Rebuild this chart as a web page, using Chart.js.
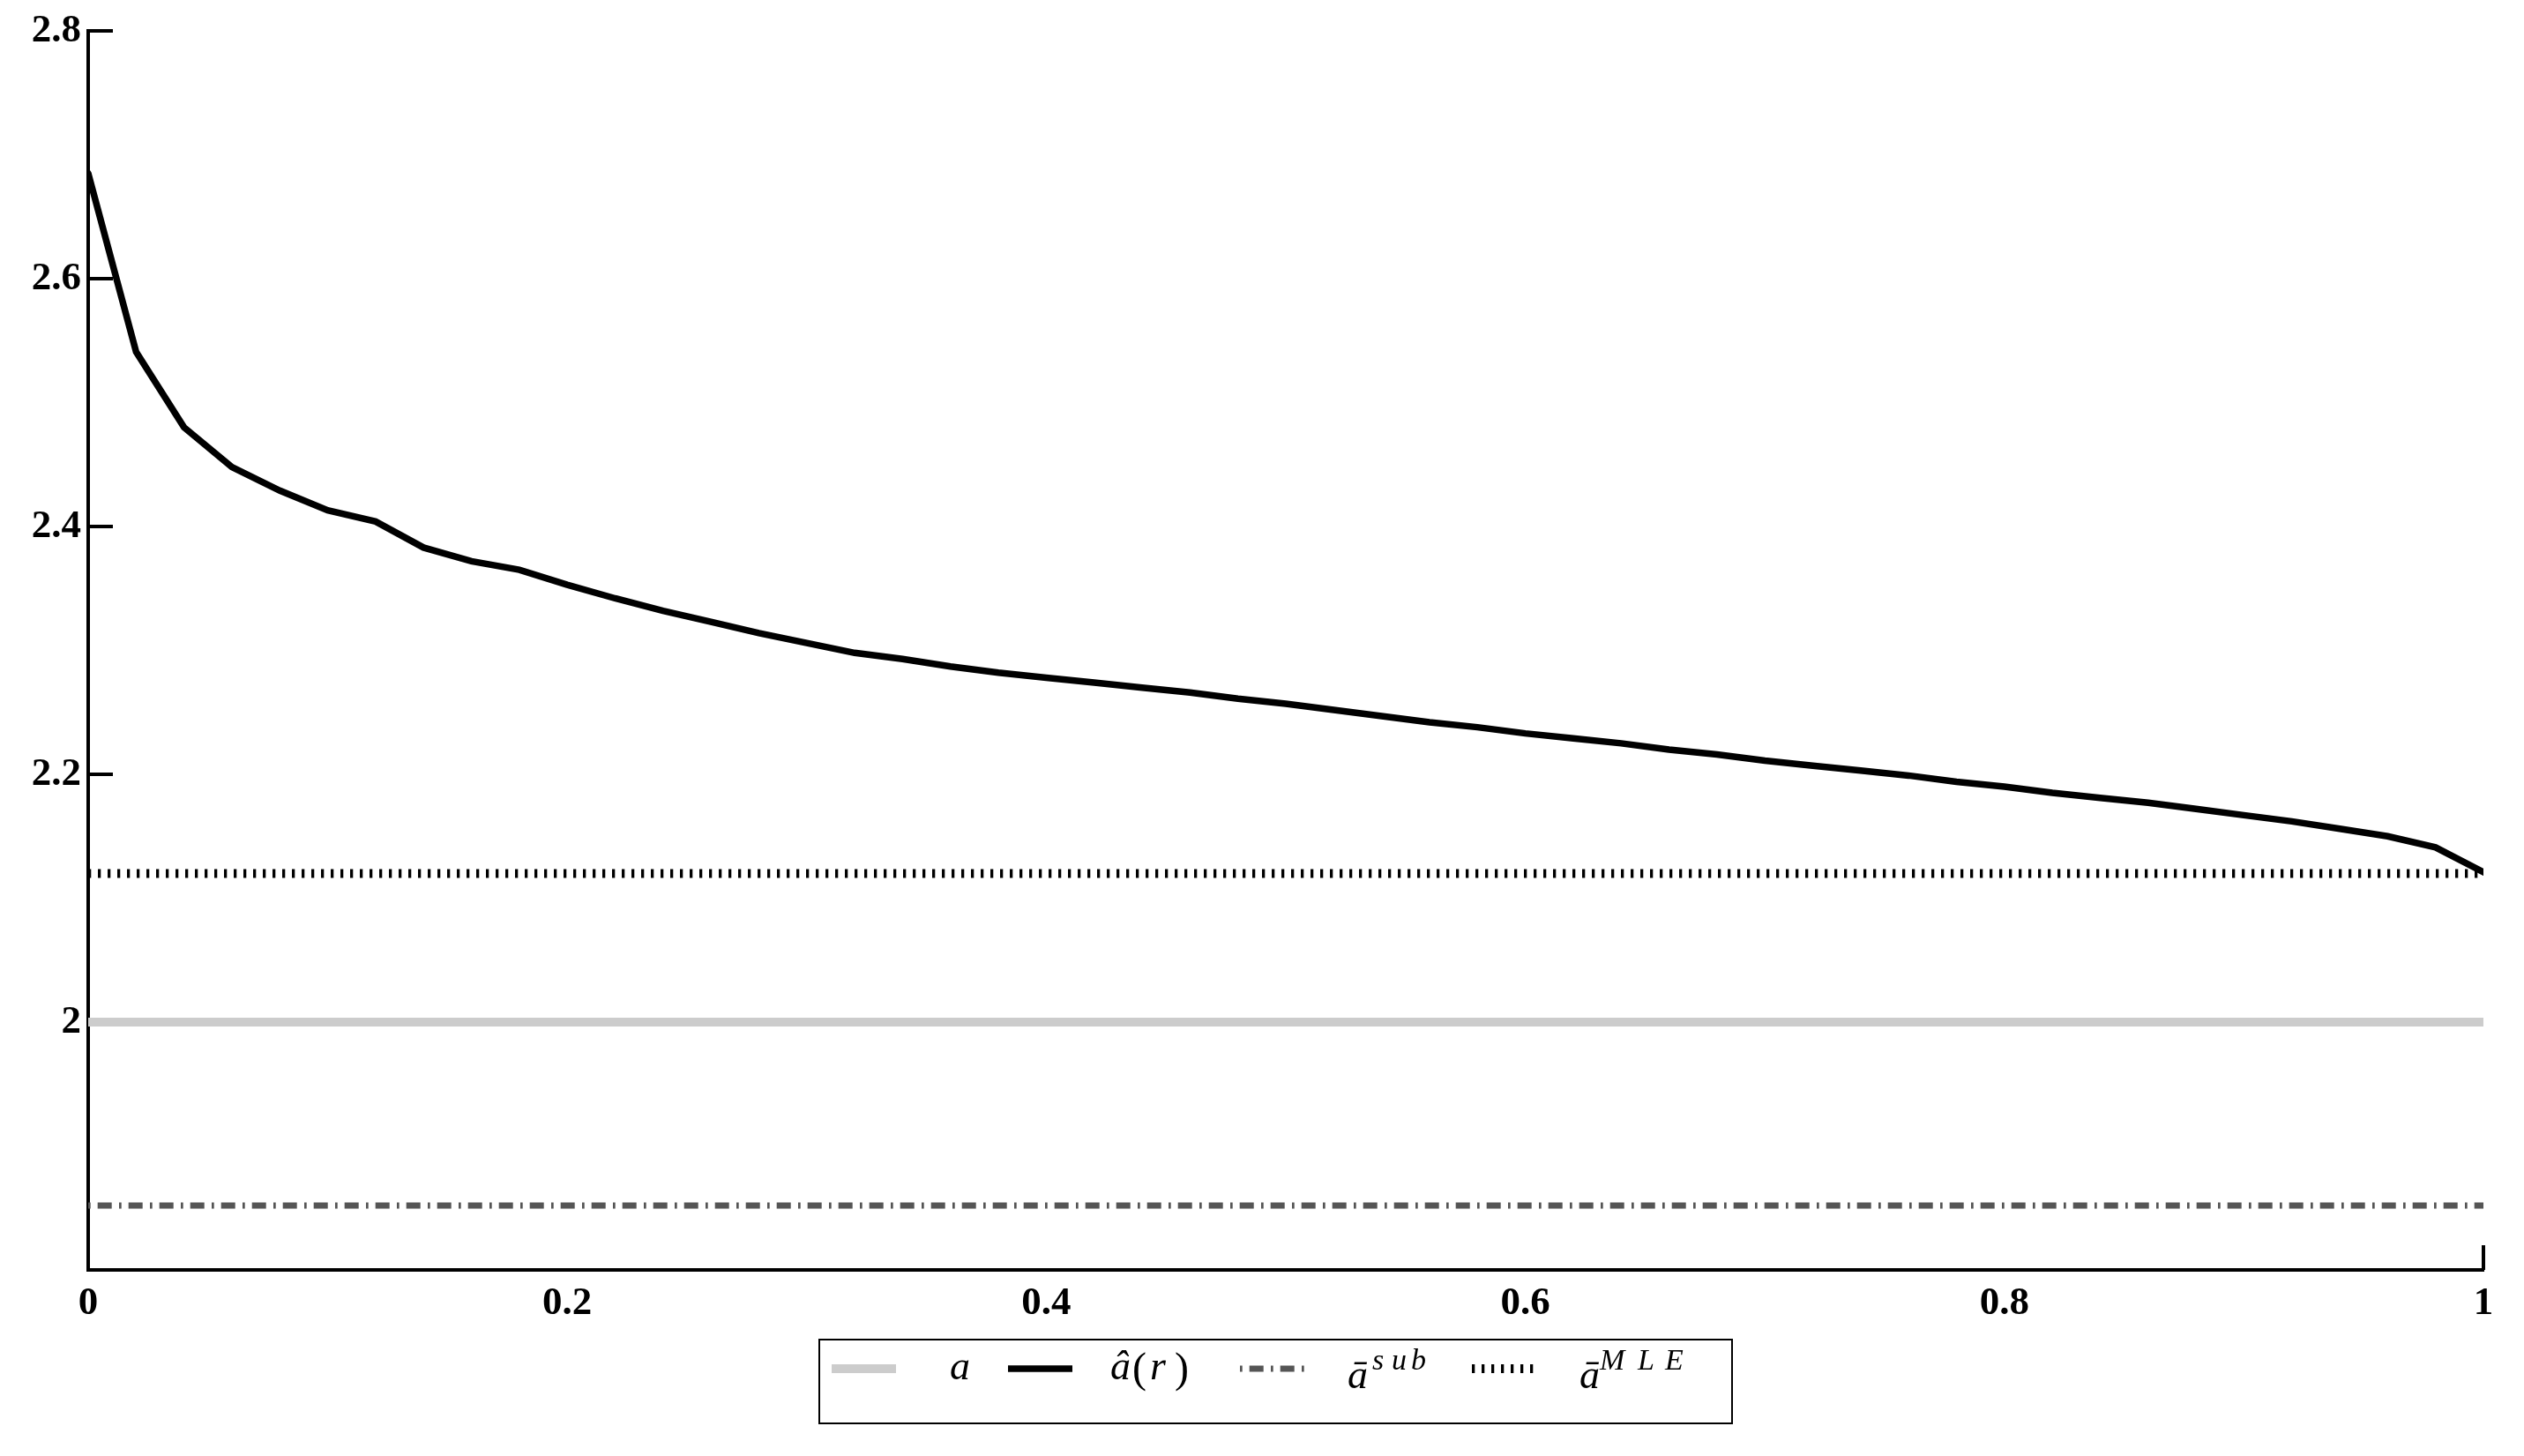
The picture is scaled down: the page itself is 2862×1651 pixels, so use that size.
<!DOCTYPE html>
<html lang="en">
<head>
    <meta charset="UTF-8">
    <title>a-hat(r)</title>
    <script src="https://cdn.jsdelivr.net/npm/chart.js@4.4.0/dist/chart.umd.min.js"></script>
    <style>
        body { margin: 0; background: #fff; }
        .wrap { width: 2862px; height: 1651px; position: relative; }
    </style>
</head>
<body>
<div class="wrap">
    <canvas id="myChart"></canvas>
</div>

<script>
    // data
    const rGrid = [0, 0.02, 0.04, 0.06, 0.08, 0.10, 0.12, 0.14, 0.16, 0.18,
                   0.20, 0.22, 0.24, 0.26, 0.28, 0.30, 0.32, 0.34, 0.36, 0.38,
                   0.40, 0.42, 0.44, 0.46, 0.48, 0.50, 0.52, 0.54, 0.56, 0.58,
                   0.60, 0.62, 0.64, 0.66, 0.68, 0.70, 0.72, 0.74, 0.76, 0.78,
                   0.80, 0.82, 0.84, 0.86, 0.88, 0.90, 0.92, 0.94, 0.96, 0.98, 1.00];
    const aHat = [2.685, 2.541, 2.480, 2.448, 2.429, 2.413, 2.404, 2.383, 2.372, 2.365,
                  2.353, 2.342, 2.332, 2.323, 2.314, 2.306, 2.298, 2.293, 2.287, 2.282,
                  2.278, 2.274, 2.270, 2.266, 2.261, 2.257, 2.252, 2.247, 2.242, 2.238,
                  2.233, 2.229, 2.225, 2.220, 2.216, 2.211, 2.207, 2.203, 2.199, 2.194,
                  2.190, 2.185, 2.181, 2.177, 2.172, 2.167, 2.162, 2.156, 2.150, 2.141, 2.121];
    const aTrue = 2;
    const aSub = 1.852;
    const aMLE = 2.12;
    const xRange = [0, 1];
    const yRange = [1.8, 2.8];
    const xTicks = [0, 0.2, 0.4, 0.6, 0.8, 1];
    const yTicks = [2, 2.2, 2.4, 2.6, 2.8];

    const tickFont = { family: 'Liberation Serif', size: 45, weight: 'bold' };

    function flat(v) {
        return [{ x: xRange[0], y: v }, { x: xRange[1], y: v }];
    }

    // MATLAB style inward tick marks (x axis only shows one at the ends)
    const innerTicks = {
        id: 'innerTicks',
        beforeDatasetsDraw(chart) {
            const ctx = chart.ctx;
            const area = chart.chartArea;
            const xs = chart.scales.x, ys = chart.scales.y;
            ctx.save();
            ctx.strokeStyle = '#000';
            ctx.lineWidth = 4;
            ctx.beginPath();
            yTicks.forEach(v => {
                const py = ys.getPixelForValue(v);
                ctx.moveTo(area.left, py);
                ctx.lineTo(area.left + 28, py);
            });
            xRange.forEach(v => {
                const px = xs.getPixelForValue(v);
                ctx.moveTo(px, area.bottom);
                ctx.lineTo(px, area.bottom - 28);
            });
            ctx.stroke();
            ctx.restore();
        }
    };

    // boxed legend with math-like labels
    const mathLegend = {
        id: 'mathLegend',
        afterDraw(chart) {
            const ctx = chart.ctx;
            const ds = chart.data.datasets;
            const bx = 929, by = 1519, bw = 1035, bh = 95;
            const sy = by + 33;
            ctx.save();
            ctx.strokeStyle = '#000';
            ctx.lineWidth = 2;
            ctx.strokeRect(bx, by, bw, bh);

            const swatches = [943, 1143, 1406, 1669];
            swatches.forEach((x0, i) => {
                const d = ds[i];
                ctx.beginPath();
                ctx.strokeStyle = d.borderColor;
                ctx.lineWidth = d.borderWidth;
                ctx.setLineDash(d.borderDash || []);
                ctx.moveTo(x0, sy);
                ctx.lineTo(x0 + 73, sy);
                ctx.stroke();
            });
            ctx.setLineDash([]);

            ctx.fillStyle = '#000';
            ctx.textBaseline = 'alphabetic';
            ctx.textAlign = 'left';
            const it = s => 'italic ' + s + 'px "Liberation Serif"';
            const up = s => s + 'px "Liberation Serif"';

            ctx.font = it(46);
            ctx.fillText('a', 1077, 1564);

            ctx.fillText('\u00e2', 1259, 1564);
            ctx.font = up(48);
            ctx.fillText('(', 1284, 1567);
            ctx.font = it(46);
            ctx.fillText('r', 1304, 1564);
            ctx.font = up(48);
            ctx.fillText(')', 1332, 1567);

            ctx.font = it(46);
            ctx.fillText('\u0101', 1528, 1574);
            ctx.font = it(34);
            ctx.fillText('s', 1556, 1553);
            ctx.fillText('u', 1578, 1553);
            ctx.fillText('b', 1600, 1553);

            ctx.font = it(46);
            ctx.fillText('\u0101', 1791, 1574);
            ctx.font = it(34);
            ctx.fillText('M', 1814, 1553);
            ctx.fillText('L', 1857, 1553);
            ctx.fillText('E', 1888, 1553);
            ctx.restore();
        }
    };

    const ctx = document.getElementById('myChart').getContext('2d');
    const myChart = new Chart(ctx, {
        type: 'line',
        data: {
            datasets: [{
                label: 'a',
                data: flat(aTrue),
                borderColor: '#cccccc',
                borderWidth: 10,
                order: 4
            }, {
                label: '\u00e2(r)',
                data: rGrid.map((r, i) => ({ x: r, y: aHat[i] })),
                borderColor: '#000000',
                borderWidth: 7.5,
                borderCapStyle: 'round',
                order: 1
            }, {
                label: '\u0101 sub',
                data: flat(aSub),
                borderColor: '#555555',
                borderWidth: 7,
                borderDash: [2.7, 8, 16, 8.3],
                order: 3
            }, {
                label: '\u0101 MLE',
                data: flat(aMLE),
                borderColor: '#000000',
                borderWidth: 10,
                borderDash: [3.3, 7.7],
                order: 2
            }]
        },
        options: {
            responsive: true,
            maintainAspectRatio: false,
            animation: false,
            devicePixelRatio: 1,
            elements: { point: { radius: 0 }, line: { tension: 0 } },
            layout: { padding: { left: 0, top: 33, right: 46, bottom: 0 } },
            plugins: {
                legend: { display: false },
                tooltip: { enabled: false }
            },
            scales: {
                x: {
                    type: 'linear',
                    min: xRange[0],
                    max: xRange[1],
                    afterBuildTicks: s => { s.ticks = xTicks.map(v => ({ value: v })); },
                    afterFit: s => { s.height = 211; },
                    grid: { display: true, drawOnChartArea: false, drawTicks: false },
                    border: { display: true, color: '#000', width: 4 },
                    ticks: {
                        color: '#000',
                        font: tickFont,
                        padding: 11,
                        maxRotation: 0,
                        callback: v => String(v)
                    }
                },
                y: {
                    type: 'linear',
                    min: yRange[0],
                    max: yRange[1],
                    afterBuildTicks: s => { s.ticks = yTicks.map(v => ({ value: v })); },
                    afterFit: s => { s.width = 100; },
                    grid: { display: true, drawOnChartArea: false, drawTicks: false },
                    border: { display: true, color: '#000', width: 4 },
                    ticks: {
                        color: '#000',
                        font: tickFont,
                        padding: 8,
                        callback: v => String(v)
                    }
                }
            }
        },
        plugins: [innerTicks, mathLegend]
    });
</script>
</body>
</html>
